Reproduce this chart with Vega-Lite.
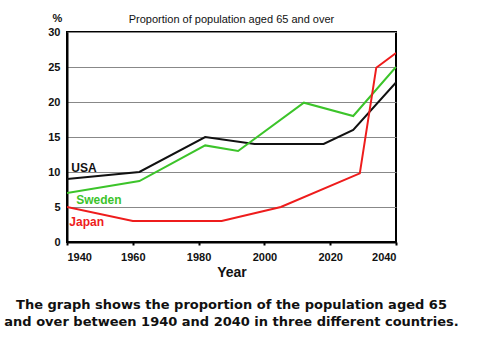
{
  "$schema": "https://vega.github.io/schema/vega-lite/v6.json",
  "width": 329,
  "height": 210,
  "autosize": {"type": "none"},
  "padding": {"left": 67, "top": 32, "right": 84, "bottom": 95},
  "background": "white",
  "title": {
    "text": ["The graph shows the proportion of the population aged 65", "and over between 1940 and 2040 in three different countries."],
    "orient": "bottom",
    "anchor": "middle",
    "offset": 20,
    "font": "DejaVu Sans",
    "fontSize": 13,
    "fontWeight": "bold",
    "color": "#111111",
    "lineHeight": 17
  },
  "config": {
    "view": {"stroke": "#000000", "strokeWidth": 2},
    "axis": {"labelFont": "Liberation Sans", "labelFontWeight": "bold", "labelFontSize": 11, "labelColor": "#111111", "titleFont": "Liberation Sans", "titleFontWeight": "bold", "titleColor": "#111111", "labelOverlap": false}
  },
  "datasets": {
    "series": [
      {"country": "USA", "year": 1940, "value": 9},
      {"country": "USA", "year": 1962, "value": 10},
      {"country": "USA", "year": 1982, "value": 15},
      {"country": "USA", "year": 1997, "value": 14},
      {"country": "USA", "year": 2018, "value": 14},
      {"country": "USA", "year": 2027, "value": 16},
      {"country": "USA", "year": 2040, "value": 22.8},
      {"country": "Sweden", "year": 1940, "value": 7},
      {"country": "Sweden", "year": 1962, "value": 8.7},
      {"country": "Sweden", "year": 1982, "value": 13.8},
      {"country": "Sweden", "year": 1992, "value": 13},
      {"country": "Sweden", "year": 2012, "value": 19.9},
      {"country": "Sweden", "year": 2027, "value": 18},
      {"country": "Sweden", "year": 2040, "value": 25},
      {"country": "Japan", "year": 1940, "value": 5},
      {"country": "Japan", "year": 1960, "value": 3},
      {"country": "Japan", "year": 1987, "value": 3},
      {"country": "Japan", "year": 2005, "value": 5},
      {"country": "Japan", "year": 2029, "value": 9.8},
      {"country": "Japan", "year": 2034, "value": 24.9},
      {"country": "Japan", "year": 2040, "value": 27}
    ],
    "labels": [
      {"country": "USA", "year": 1941.3, "value": 10.6},
      {"country": "Sweden", "year": 1942.8, "value": 6},
      {"country": "Japan", "year": 1940.7, "value": 2.9}
    ],
    "heading": [
      {"text": "Proportion of population aged 65 and over", "year": 1990, "value": 30}
    ]
  },
  "encoding": {
    "x": {"field": "year", "type": "quantitative", "scale": {"domain": [1940, 2040], "nice": false, "zero": false},
      "axis": {"values": [1940, 1960, 1980, 2000, 2020, 2040], "format": "d", "grid": false, "domainColor": "#000000", "domainWidth": 2, "tickColor": "#000000", "tickSize": 3, "tickWidth": 2, "labelPadding": 6, "title": "Year", "titleFontSize": 14, "titlePadding": 3}},
    "y": {"field": "value", "type": "quantitative", "scale": {"domain": [0, 30], "nice": false},
      "axis": {"values": [0, 5, 10, 15, 20, 25, 30], "grid": true, "gridColor": "#888888", "gridWidth": 1, "gridOpacity": 1, "domainColor": "#000000", "domainWidth": 2, "ticks": false, "labelPadding": 7, "title": "%", "titleAngle": 0, "titleFontSize": 11, "titleAlign": "center", "titleBaseline": "bottom", "titleX": -10, "titleY": -9}}
  },
  "layer": [
    {
      "data": {"name": "series"},
      "mark": {"type": "line", "strokeWidth": 2, "clip": true},
      "encoding": {
        "color": {"field": "country", "type": "nominal", "scale": {"domain": ["USA", "Sweden", "Japan"], "range": ["#111111", "#3cc42a", "#ee1c1c"]}, "legend": null},
        "detail": {"field": "country"}
      }
    },
    {
      "data": {"name": "labels"},
      "mark": {"type": "text", "align": "left", "baseline": "middle", "font": "Liberation Sans", "fontWeight": "bold", "fontSize": 12},
      "encoding": {
        "text": {"field": "country"},
        "color": {"field": "country", "type": "nominal", "legend": null}
      }
    },
    {
      "data": {"name": "heading"},
      "mark": {"type": "text", "align": "center", "baseline": "bottom", "dy": -7, "font": "Liberation Sans", "fontSize": 11, "color": "#111111", "clip": false},
      "encoding": {
        "text": {"field": "text"}
      }
    }
  ]
}
